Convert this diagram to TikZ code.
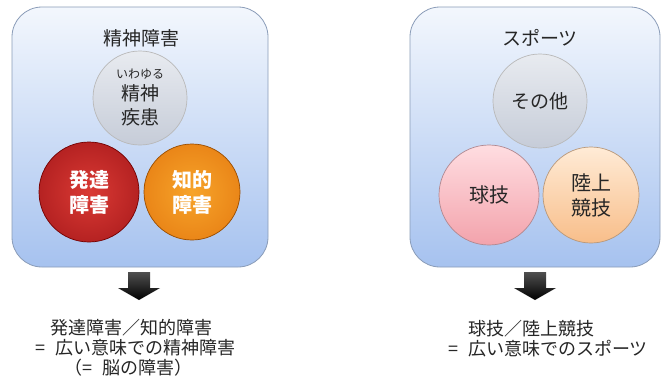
\documentclass[tikz,border=0pt]{standalone}
\usepackage{fontspec}
\setmainfont{Noto Sans CJK JP}
\usetikzlibrary{calc}
\definecolor{boxtop}{HTML}{F3F7FD}
\definecolor{boxbot}{HTML}{A6C2EF}
\definecolor{boxline}{HTML}{8A9CB8}
\definecolor{txt}{HTML}{262626}
\tikzset{
  panel/.style={draw=boxline, line width=0.8pt, rounded corners=30pt, top color=boxtop, bottom color=boxbot},
  ball/.style={circle, draw=#1, line width=0.7pt, inner sep=0pt, align=center, font=\fontsize{19}{24}\selectfont, text=txt},
  graybal/.style={ball=gray!55, minimum size=94pt, top color=HTML-E6E9EF, bottom color=HTML-C8CED9},
  redbal/.style={ball=red!45!black, minimum size=100pt, inner color=HTML-DA3A34, outer color=HTML-B52222, text=white, font=\fontsize{20}{25}\selectfont\bfseries},
  orangebal/.style={ball=orange!60!black, minimum size=96pt, inner color=HTML-F7A42A, outer color=HTML-EA8618, text=white, font=\fontsize{20}{25}\selectfont\bfseries},
  pinkbal/.style={ball=HTML-B08890, minimum size=100pt, top color=HTML-FFDDE1, bottom color=HTML-F3A3AC, font=\fontsize{20}{25}\selectfont},
  peachbal/.style={ball=HTML-B8987A, minimum size=96pt, top color=HTML-FFEBD6, bottom color=HTML-F8BE8A, font=\fontsize{20}{25}\selectfont},
  title/.style={font=\fontsize{19}{24}\selectfont, text=txt},
  bottomtext/.style={font=\fontsize{18}{22}\selectfont, text=txt, anchor=west, inner sep=0pt},
  blockarrow/.style={top color=HTML-505050, bottom color=black, draw=none}
}
\colorlet{HTML-E6E9EF}{white}
\definecolor{HTML-E6E9EF}{HTML}{E8EBF0}
\definecolor{HTML-C8CED9}{HTML}{C6CCD8}
\definecolor{HTML-DA3A34}{HTML}{DA3A34}
\definecolor{HTML-B52222}{HTML}{B52222}
\definecolor{HTML-F7A42A}{HTML}{F7A42A}
\definecolor{HTML-EA8618}{HTML}{EA8618}
\definecolor{HTML-B08890}{HTML}{B08890}
\definecolor{HTML-FFDDE1}{HTML}{FFDDE1}
\definecolor{HTML-F3A3AC}{HTML}{F3A3AC}
\definecolor{HTML-B8987A}{HTML}{B8987A}
\definecolor{HTML-FFEBD6}{HTML}{FFEBD6}
\definecolor{HTML-F8BE8A}{HTML}{F8BE8A}
\definecolor{HTML-505050}{HTML}{505050}
\begin{document}
\begin{tikzpicture}[x=1pt,y=-1pt]
\useasboundingbox[fill=white] (0,0) rectangle (668,391);
% left panel
\node[panel, minimum width=256pt, minimum height=260pt] (lbox) at (140,137) {};
\node[title] (ltitle) at (141,38) {精神障害};
\node[graybal] (lc1) at (140,98) {\raisebox{2pt}{\fontsize{12}{12}\selectfont いわゆる}\\[-4pt]精神\\疾患};
\node[redbal] (lc2) at (89,192) {発達\\障害};
\node[orangebal] (lc3) at (192,192) {知的\\障害};
% right panel
\node[panel, minimum width=250pt, minimum height=260pt] (rbox) at (535,137) {};
\node[title] (rtitle) at (540,38) {スポーツ};
\node[graybal] (rc1) at (540,101) {その他};
\node[pinkbal] (rc2) at (489,195) {球技};
\node[peachbal] (rc3) at (591,195) {陸上\\競技};
% arrows
\coordinate (la) at (139,272);
\coordinate (ra) at (535,272);
\foreach \c in {la,ra}{
  \path[blockarrow] ($(\c)+(-11,0)$) -- ($(\c)+(11,0)$) -- ($(\c)+(11,16)$) -- ($(\c)+(21,16)$)
     -- ($(\c)+(0,28)$) -- ($(\c)+(-21,16)$) -- ($(\c)+(-11,16)$) -- cycle;
}
% bottom texts
\node[bottomtext] (lt1) at (50,328) {発達障害／知的障害};
\node[bottomtext] (lt2) at (35,348) {=\hspace{10pt}広い意味での精神障害};
\node[bottomtext] (lt3) at (64,368) {（=\hspace{10pt}脳の障害）};
\node[bottomtext] (rt1) at (468,329) {球技／陸上競技};
\node[bottomtext] (rt2) at (448,349) {=\hspace{10pt}広い意味でのスポーツ};
\end{tikzpicture}
\end{document}
